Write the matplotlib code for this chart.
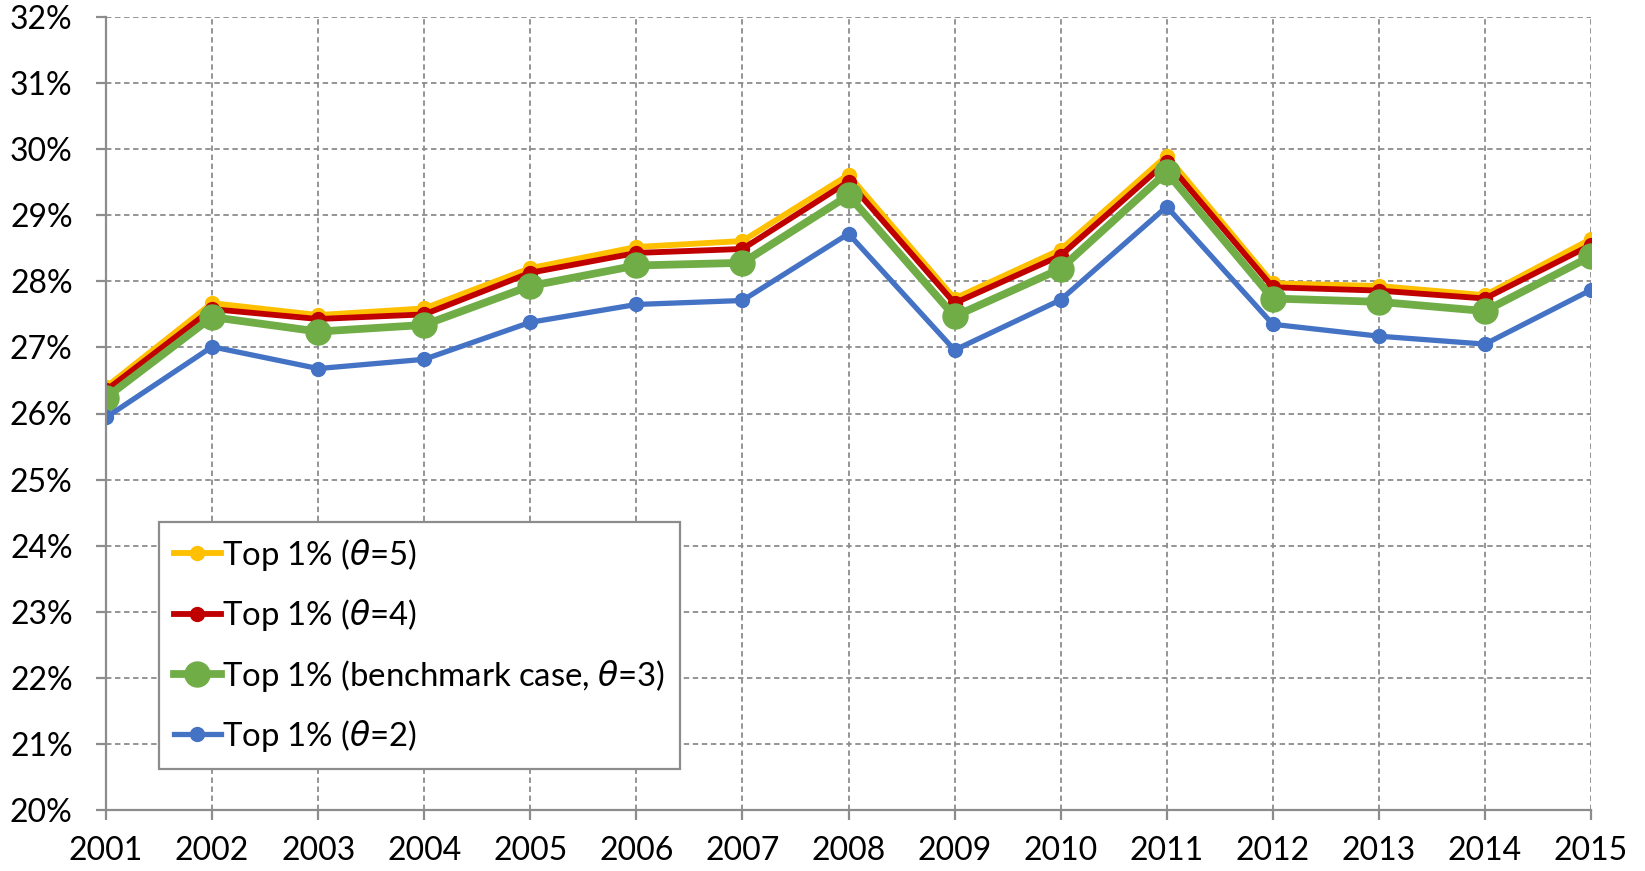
import matplotlib
matplotlib.use("Agg")
import matplotlib.pyplot as plt
from matplotlib.ticker import FuncFormatter, MultipleLocator

plt.rcParams["font.family"] = ["Lato", "DejaVu Sans"]
plt.rcParams["mathtext.fontset"] = "dejavusans"

years = list(range(2001, 2016))

# top 1% income shares (%)
theta5 = [26.40, 27.67, 27.49, 27.59, 28.20, 28.52, 28.61, 29.61, 27.74, 28.48,
          29.90, 27.97, 27.93, 27.79, 28.64]
theta4 = [26.35, 27.58, 27.43, 27.50, 28.13, 28.43, 28.49, 29.51, 27.67, 28.39,
          29.81, 27.91, 27.86, 27.74, 28.55]
theta3 = [26.24, 27.46, 27.24, 27.34, 27.93, 28.24, 28.28, 29.30, 27.47, 28.19,
          29.65, 27.74, 27.69, 27.55, 28.38]
theta2 = [25.94, 27.01, 26.68, 26.82, 27.38, 27.65, 27.71, 28.72, 26.96, 27.72,
          29.13, 27.35, 27.17, 27.05, 27.87]

labels = [
    r"Top 1% ($\theta$=5)",
    r"Top 1% ($\theta$=4)",
    r"Top 1% (benchmark case, $\theta$=3)",
    r"Top 1% ($\theta$=2)",
]

fig = plt.figure(figsize=(16.45, 8.71), dpi=100)
fig.subplots_adjust(left=106 / 1645, right=1591 / 1645,
                    top=1 - 17 / 871, bottom=1 - 810 / 871)
ax = fig.add_subplot(111)

ax.plot(years, theta5, color="#FFC000", lw=4.2, marker="o", ms=10, label=labels[0])
ax.plot(years, theta4, color="#C00000", lw=4.2, marker="o", ms=10, label=labels[1])
ax.plot(years, theta3, color="#70AD47", lw=5.6, marker="o", ms=18, label=labels[2])
ax.plot(years, theta2, color="#4472C4", lw=3.8, marker="o", ms=10, label=labels[3])

ax.set_xlim(2001, 2015)
ax.set_ylim(20, 32)
ax.xaxis.set_major_locator(MultipleLocator(1))
ax.yaxis.set_major_locator(MultipleLocator(1))
ax.yaxis.set_major_formatter(FuncFormatter(lambda v, p: f"{v:.0f}%"))

ax.grid(True, ls=(0, (3, 2)), color="#8c8c8c", lw=1.3)
ax.set_axisbelow(True)
for s in ["top", "right"]:
    ax.spines[s].set_visible(False)
for s in ["left", "bottom"]:
    ax.spines[s].set_color("#8c8c8c")
    ax.spines[s].set_linewidth(1.6)

ax.tick_params(axis="both", colors="#8c8c8c", length=7, width=1.6,
               labelsize=23, labelcolor="black")
ax.tick_params(axis="y", pad=17)
ax.tick_params(axis="x", pad=12)

leg = ax.legend(loc="lower left", bbox_to_anchor=(0.0355, 0.052),
                borderaxespad=0, fontsize=23.7, handlelength=1.45,
                handletextpad=0.02, labelspacing=0.74, numpoints=1,
                fancybox=False, framealpha=1, edgecolor="#8c8c8c",
                borderpad=0.45)
leg.get_frame().set_linewidth(1.6)

fig.savefig("out.png", dpi=100)
